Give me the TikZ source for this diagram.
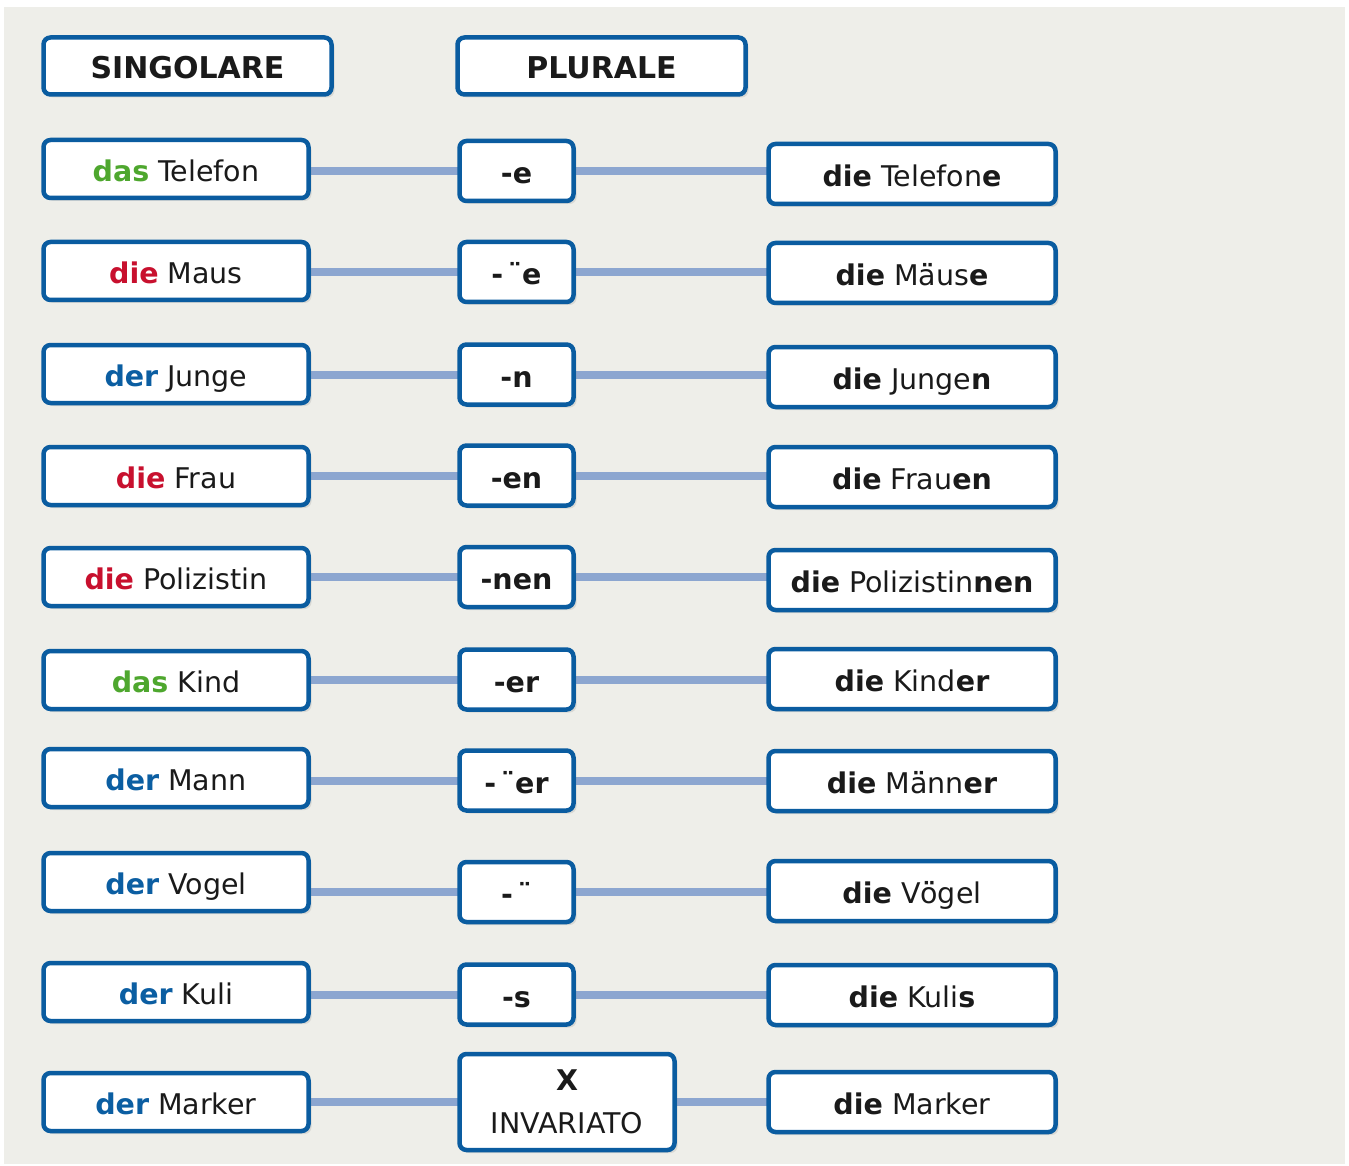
\documentclass[tikz,border=0pt]{standalone}
\usepackage{fontspec}
\setmainfont{DejaVu Sans}
\usetikzlibrary{shadows}
\definecolor{bgc}{RGB}{238,238,233}
\definecolor{bord}{RGB}{10,92,160}
\definecolor{connc}{RGB}{140,166,208}
\definecolor{gr}{RGB}{78,167,46}
\definecolor{rd}{RGB}{200,16,46}
\definecolor{bl}{RGB}{11,94,162}
\definecolor{tx}{RGB}{26,26,26}
\pgfdeclarelayer{back}\pgfdeclarelayer{bg}\pgfsetlayers{back,bg,main}
\newcommand\bdia[1]{\ooalign{#1\cr\hidewidth{\bfseries\char"00A8}\hidewidth\cr}}
\newcommand\das{\textcolor{gr}{\bfseries das}}
\newcommand\dief{\textcolor{rd}{\bfseries die}}
\newcommand\der{\textcolor{bl}{\bfseries der}}
\begin{document}
\begin{tikzpicture}[x=1pt,y=-1pt,
  box/.style={draw=bord, line width=4.5pt, rounded corners=7pt, fill=white,
    drop shadow={opacity=0.2, shadow xshift=3pt, shadow yshift=-3pt},
    text=tx, font=\fontsize{28.5}{34}\selectfont, inner sep=0pt},
  one/.style={text height=28pt, text depth=3pt},
  hdr/.style={box, one, minimum width=288pt, minimum height=57pt, font=\fontsize{30}{36}\selectfont\bfseries},
  lbox/.style={box, one, minimum width=265pt, minimum height=58pt},
  mbox/.style={box, one, minimum width=114pt, minimum height=60pt, font=\fontsize{28.5}{34}\selectfont\bfseries},
  rbox/.style={box, one, minimum width=287pt, minimum height=60pt},
  conn/.style={draw=connc, line width=8pt}]
\useasboundingbox (0,0) rectangle (1349,1166);
\begin{pgfonlayer}{back}
\fill[white] (0,0) rectangle (1349,1166);
\fill[bgc] (4,7) rectangle (1345,1164);
\end{pgfonlayer}

\node[hdr] (hs) at (187.5,66) {SINGOLARE};
\node[hdr] (hp) at (601.5,66) {PLURALE};

\node[lbox] (l1) at (176,169) {\das{} Telefon};
\node[lbox] (l2) at (176,271) {\dief{} Maus};
\node[lbox] (l3) at (176,374) {\der{} Junge};
\node[lbox] (l4) at (176,476) {\dief{} Frau};
\node[lbox] (l5) at (176,577) {\dief{} Polizistin};
\node[lbox] (l6) at (176,680) {\das{} Kind};
\node[lbox] (l7) at (176,778) {\der{} Mann};
\node[lbox] (l8) at (176,882) {\der{} Vogel};
\node[lbox] (l9) at (176,992) {\der{} Kuli};
\node[lbox] (l10) at (176,1102) {\der{} Marker};

\node[mbox] (m1) at (516.5,171) {-e};
\node[mbox] (m2) at (516.5,272) {-\,\char"00A8e};
\node[mbox] (m3) at (516.5,374.5) {-n};
\node[mbox] (m4) at (516.5,475.5) {-en};
\node[mbox] (m5) at (516.5,577) {-nen};
\node[mbox] (m6) at (516.5,679.5) {-er};
\node[mbox] (m7) at (516.5,780.5) {-\,\char"00A8er};
\node[mbox] (m8) at (516.5,892) {-\,\char"00A8};
\node[mbox] (m9) at (516.5,994.5) {-s};
\node[box, minimum width=215pt, minimum height=96pt, align=center,
  font=\fontsize{28.5}{43}\selectfont] (m10) at (567,1102) {\textbf{X}\\INVARIATO};

\node[rbox] (r1) at (912,174) {\textbf{die} Telefon\textbf{e}};
\node[rbox] (r2) at (912,273) {\textbf{die} M\bdia{a}us\textbf{e}};
\node[rbox] (r3) at (912,377) {\textbf{die} Junge\textbf{n}};
\node[rbox] (r4) at (912,477) {\textbf{die} Frau\textbf{en}};
\node[rbox] (r5) at (912,580) {\textbf{die} Polizistin\textbf{nen}};
\node[rbox] (r6) at (912,679) {\textbf{die} Kind\textbf{er}};
\node[rbox] (r7) at (912,781) {\textbf{die} M\bdia{a}nn\textbf{er}};
\node[rbox] (r8) at (912,891) {\textbf{die} V\bdia{o}gel};
\node[rbox] (r9) at (912,995) {\textbf{die} Kuli\textbf{s}};
\node[rbox] (r10) at (912,1102) {\textbf{die} Marker};

\begin{pgfonlayer}{bg}
\foreach \i in {1,...,10}{
  \draw[conn] (l\i |- m\i) -- (r\i |- m\i);
}
\end{pgfonlayer}
\end{tikzpicture}
\end{document}
